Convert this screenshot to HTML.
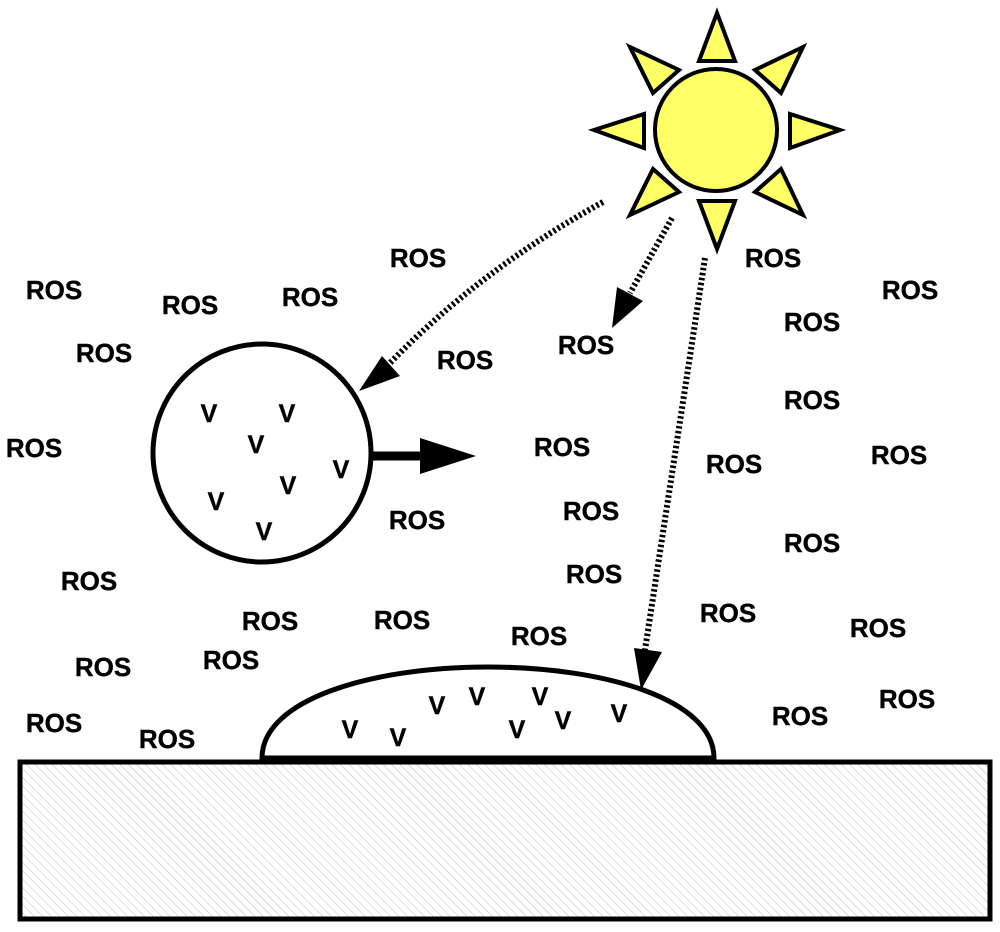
<!DOCTYPE html>
<html><head><meta charset="utf-8"><style>
html,body{margin:0;padding:0;background:#fff}
svg{display:block}
text{font-family:"Liberation Sans",Arial,sans-serif;font-weight:bold;font-size:26px;fill:#000;text-anchor:middle;dominant-baseline:central;stroke:#000;stroke-width:0.4}
text.v{font-size:25px}
</style></head><body>
<svg width="1000" height="932" viewBox="0 0 1000 932" xmlns="http://www.w3.org/2000/svg">
<defs>
<pattern id="h" patternUnits="userSpaceOnUse" width="6" height="6" patternTransform="rotate(-45)">
<line x1="0" y1="0" x2="0" y2="6" stroke="#bdbdbd" stroke-width="1"/>
</pattern>
</defs>
<rect x="20" y="762" width="970" height="157" fill="url(#h)" stroke="#000" stroke-width="5"/>
<path d="M262,758 C262,700 370,667 488,667 C606,667 714,700 714,758 Z" fill="#fff" stroke="#000" stroke-width="5"/>
<circle cx="262" cy="453" r="109" fill="#fff" stroke="#000" stroke-width="5"/>
<line x1="372" y1="456" x2="422" y2="456" stroke="#000" stroke-width="9"/>
<polygon points="420,438 420,474 476,456" fill="#000"/>
<g fill="none" stroke="#000" stroke-width="6" stroke-dasharray="2.5,2.5">
<path d="M603,202 Q480,270 390,363"/>
<path d="M672,218 L630,293"/>
<path d="M705,258 L645,650"/>
</g>
<polygon points="359,391 382,356 400,376" fill="#000"/>
<polygon points="612,328 617,287 643,301" fill="#000"/>
<polygon points="641,690 634,648 662,652" fill="#000"/>
<g fill="#ffff66" stroke="#000" stroke-width="4" stroke-linejoin="miter">
<circle cx="716" cy="130" r="61"/>
<polygon points="717,13 699,61 735,61"/>
<polygon points="717,249 699,201 735,201"/>
<polygon points="594,130 644,114 644,148"/>
<polygon points="840,130 790,114 790,148"/>
<polygon points="630,47 679,70 653,93"/>
<polygon points="803,47 755,70 781,93"/>
<polygon points="630,215 679,192 653,169"/>
<polygon points="803,215 755,192 781,169"/>
</g>
<text x="54" y="290">ROS</text>
<text x="190" y="305">ROS</text>
<text x="310" y="297">ROS</text>
<text x="418" y="258">ROS</text>
<text x="104" y="353">ROS</text>
<text x="34" y="448">ROS</text>
<text x="465" y="360">ROS</text>
<text x="586" y="345">ROS</text>
<text x="773" y="258">ROS</text>
<text x="910" y="290">ROS</text>
<text x="812" y="322">ROS</text>
<text x="812" y="400">ROS</text>
<text x="734" y="464">ROS</text>
<text x="899" y="455">ROS</text>
<text x="562" y="447">ROS</text>
<text x="417" y="520">ROS</text>
<text x="591" y="511">ROS</text>
<text x="594" y="574">ROS</text>
<text x="812" y="543">ROS</text>
<text x="89" y="581">ROS</text>
<text x="270" y="621">ROS</text>
<text x="402" y="620">ROS</text>
<text x="539" y="636">ROS</text>
<text x="728" y="613">ROS</text>
<text x="878" y="628">ROS</text>
<text x="103" y="667">ROS</text>
<text x="231" y="660">ROS</text>
<text x="54" y="723">ROS</text>
<text x="167" y="739">ROS</text>
<text x="800" y="716">ROS</text>
<text x="907" y="699">ROS</text>
<text class="v" x="209" y="414">V</text>
<text class="v" x="287" y="414">V</text>
<text class="v" x="256" y="445">V</text>
<text class="v" x="341" y="470">V</text>
<text class="v" x="288" y="486">V</text>
<text class="v" x="216" y="502">V</text>
<text class="v" x="264" y="532">V</text>
<text class="v" x="350" y="730">V</text>
<text class="v" x="398" y="738">V</text>
<text class="v" x="437" y="706">V</text>
<text class="v" x="477" y="697">V</text>
<text class="v" x="517" y="730">V</text>
<text class="v" x="540" y="697">V</text>
<text class="v" x="563" y="721">V</text>
<text class="v" x="619" y="714">V</text>
</svg>
</body></html>
